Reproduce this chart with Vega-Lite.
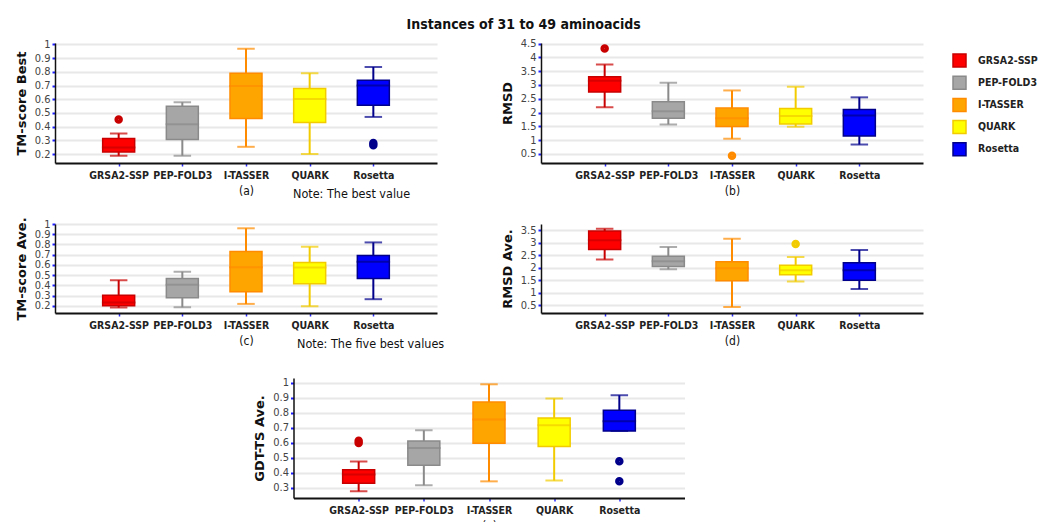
{
"$schema": "https://vega.github.io/schema/vega-lite/v6.json",
"autosize": {"type": "pad"},
"padding": {"left": 15, "top": 17, "right": 5, "bottom": 0},
"background": "white",
"title": {"text": "Instances of 31 to 49 aminoacids", "font": "DejaVu Sans Condensed", "fontSize": 14, "fontWeight": "bold", "color": "#111", "anchor": "middle", "dx": -3, "offset": 6},
"datasets": {
"boxes": [
{"panel": "a", "tool": "GRSA2-SSP", "lower": 0.188, "q1": 0.215, "median": 0.248, "q3": 0.314, "upper": 0.35},
{"panel": "a", "tool": "PEP-FOLD3", "lower": 0.188, "q1": 0.307, "median": 0.418, "q3": 0.549, "upper": 0.578},
{"panel": "a", "tool": "I-TASSER", "lower": 0.253, "q1": 0.459, "median": 0.697, "q3": 0.79, "upper": 0.968},
{"panel": "a", "tool": "QUARK", "lower": 0.2, "q1": 0.43, "median": 0.602, "q3": 0.678, "upper": 0.79},
{"panel": "a", "tool": "Rosetta", "lower": 0.471, "q1": 0.556, "median": 0.70, "q3": 0.738, "upper": 0.835},
{"panel": "b", "tool": "GRSA2-SSP", "lower": 2.19, "q1": 2.74, "median": 3.15, "q3": 3.30, "upper": 3.74},
{"panel": "b", "tool": "PEP-FOLD3", "lower": 1.57, "q1": 1.79, "median": 2.05, "q3": 2.39, "upper": 3.08},
{"panel": "b", "tool": "I-TASSER", "lower": 1.05, "q1": 1.49, "median": 1.79, "q3": 2.16, "upper": 2.80},
{"panel": "b", "tool": "QUARK", "lower": 1.48, "q1": 1.58, "median": 1.87, "q3": 2.15, "upper": 2.93},
{"panel": "b", "tool": "Rosetta", "lower": 0.84, "q1": 1.15, "median": 1.89, "q3": 2.11, "upper": 2.55},
{"panel": "c", "tool": "GRSA2-SSP", "lower": 0.183, "q1": 0.2, "median": 0.232, "q3": 0.304, "upper": 0.451},
{"panel": "c", "tool": "PEP-FOLD3", "lower": 0.186, "q1": 0.278, "median": 0.405, "q3": 0.467, "upper": 0.533},
{"panel": "c", "tool": "I-TASSER", "lower": 0.219, "q1": 0.337, "median": 0.578, "q3": 0.732, "upper": 0.958},
{"panel": "c", "tool": "QUARK", "lower": 0.196, "q1": 0.415, "median": 0.575, "q3": 0.624, "upper": 0.778},
{"panel": "c", "tool": "Rosetta", "lower": 0.265, "q1": 0.467, "median": 0.631, "q3": 0.693, "upper": 0.82},
{"panel": "d", "tool": "GRSA2-SSP", "lower": 2.32, "q1": 2.72, "median": 3.09, "q3": 3.46, "upper": 3.55},
{"panel": "d", "tool": "PEP-FOLD3", "lower": 1.93, "q1": 2.04, "median": 2.25, "q3": 2.45, "upper": 2.82},
{"panel": "d", "tool": "I-TASSER", "lower": 0.42, "q1": 1.47, "median": 1.97, "q3": 2.23, "upper": 3.15},
{"panel": "d", "tool": "QUARK", "lower": 1.44, "q1": 1.71, "median": 1.89, "q3": 2.09, "upper": 2.42},
{"panel": "d", "tool": "Rosetta", "lower": 1.14, "q1": 1.49, "median": 1.89, "q3": 2.19, "upper": 2.70},
{"panel": "e", "tool": "GRSA2-SSP", "lower": 0.278, "q1": 0.331, "median": 0.389, "q3": 0.422, "upper": 0.476},
{"panel": "e", "tool": "PEP-FOLD3", "lower": 0.318, "q1": 0.451, "median": 0.567, "q3": 0.613, "upper": 0.684},
{"panel": "e", "tool": "I-TASSER", "lower": 0.344, "q1": 0.598, "median": 0.756, "q3": 0.873, "upper": 0.991},
{"panel": "e", "tool": "QUARK", "lower": 0.349, "q1": 0.576, "median": 0.718, "q3": 0.767, "upper": 0.896},
{"panel": "e", "tool": "Rosetta", "lower": 0.68, "q1": 0.68, "median": 0.744, "q3": 0.818, "upper": 0.918}
],
"outliers": [
{"panel": "a", "tool": "GRSA2-SSP", "value": 0.452},
{"panel": "a", "tool": "Rosetta", "value": 0.265},
{"panel": "a", "tool": "Rosetta", "value": 0.28},
{"panel": "b", "tool": "GRSA2-SSP", "value": 4.32},
{"panel": "b", "tool": "I-TASSER", "value": 0.43},
{"panel": "d", "tool": "QUARK", "value": 2.94},
{"panel": "e", "tool": "GRSA2-SSP", "value": 0.6},
{"panel": "e", "tool": "GRSA2-SSP", "value": 0.615},
{"panel": "e", "tool": "Rosetta", "value": 0.478},
{"panel": "e", "tool": "Rosetta", "value": 0.344}
]
},
"vconcat": [
{
"hconcat": [
{
"width": 382, "height": 120,
"title": {"text": "Note: The best value", "orient": "bottom", "anchor": "start", "frame": "group", "dx": 238, "dy": -9, "font": "DejaVu Sans Condensed", "fontSize": 12.5, "fontWeight": "normal", "color": "#111", "offset": 0},
"encoding": {"x": {"field": "tool", "type": "nominal", "scale": {"type": "point", "padding": 1, "domain": ["GRSA2-SSP", "PEP-FOLD3", "I-TASSER", "QUARK", "Rosetta"]}, "axis": {"title": "(a)", "labelAngle": 0}}},
"layer": [
{"data": {"name": "boxes"}, "transform": [{"filter": "datum.panel === 'a'"}],
"layer": [
{"mark": {"type": "rule", "strokeWidth": 2}, "encoding": {"y": {"field": "lower", "type": "quantitative", "title": "TM-score Best", "scale": {"domain": [0.135, 1.01], "nice": false, "zero": false}, "axis": {"values": [0.2, 0.3, 0.4, 0.5, 0.6, 0.7, 0.8, 0.9, 1], "format": "~g"}}, "y2": {"field": "upper"}, "stroke": {"field": "tool", "type": "nominal", "scale": {"domain": ["GRSA2-SSP", "PEP-FOLD3", "I-TASSER", "QUARK", "Rosetta"]}, "legend": {"title": null}}}},
{"mark": {"type": "bar", "size": 32, "strokeWidth": 1.5}, "encoding": {"y": {"field": "q1", "type": "quantitative", "title": "TM-score Best", "scale": {"domain": [0.135, 1.01], "nice": false, "zero": false}, "axis": {"values": [0.2, 0.3, 0.4, 0.5, 0.6, 0.7, 0.8, 0.9, 1], "format": "~g"}}, "y2": {"field": "q3"}, "fill": {"field": "tool", "type": "nominal", "scale": {"domain": ["GRSA2-SSP", "PEP-FOLD3", "I-TASSER", "QUARK", "Rosetta"], "range": ["#ff0000", "#a6a6a6", "#ffa500", "#ffff00", "#0000ff"]}, "legend": {"title": null}}, "stroke": {"field": "tool", "type": "nominal", "scale": {"domain": ["GRSA2-SSP", "PEP-FOLD3", "I-TASSER", "QUARK", "Rosetta"]}, "legend": {"title": null}}}},
{"mark": {"type": "tick", "size": 32, "thickness": 0.5, "filled": false, "strokeWidth": 1.5}, "encoding": {"y": {"field": "median", "type": "quantitative", "title": "TM-score Best", "scale": {"domain": [0.135, 1.01], "nice": false, "zero": false}, "axis": {"values": [0.2, 0.3, 0.4, 0.5, 0.6, 0.7, 0.8, 0.9, 1], "format": "~g"}}, "stroke": {"field": "tool", "type": "nominal", "scale": {"domain": ["GRSA2-SSP", "PEP-FOLD3", "I-TASSER", "QUARK", "Rosetta"]}, "legend": {"title": null}}}},
{"mark": {"type": "tick", "size": 16, "thickness": 0.5, "filled": false, "strokeWidth": 1.5}, "encoding": {"y": {"field": "lower", "type": "quantitative", "title": "TM-score Best", "scale": {"domain": [0.135, 1.01], "nice": false, "zero": false}, "axis": {"values": [0.2, 0.3, 0.4, 0.5, 0.6, 0.7, 0.8, 0.9, 1], "format": "~g"}}, "stroke": {"field": "tool", "type": "nominal", "scale": {"domain": ["GRSA2-SSP", "PEP-FOLD3", "I-TASSER", "QUARK", "Rosetta"]}, "legend": {"title": null}}}},
{"mark": {"type": "tick", "size": 16, "thickness": 0.5, "filled": false, "strokeWidth": 1.5}, "encoding": {"y": {"field": "upper", "type": "quantitative", "title": "TM-score Best", "scale": {"domain": [0.135, 1.01], "nice": false, "zero": false}, "axis": {"values": [0.2, 0.3, 0.4, 0.5, 0.6, 0.7, 0.8, 0.9, 1], "format": "~g"}}, "stroke": {"field": "tool", "type": "nominal", "scale": {"domain": ["GRSA2-SSP", "PEP-FOLD3", "I-TASSER", "QUARK", "Rosetta"]}, "legend": {"title": null}}}}
]},
{"data": {"name": "outliers"}, "transform": [{"filter": "datum.panel === 'a'"}], "mark": {"type": "point", "filled": false, "size": 16, "strokeWidth": 4.5, "opacity": 1}, "encoding": {"y": {"field": "value", "type": "quantitative", "title": "TM-score Best", "scale": {"domain": [0.135, 1.01], "nice": false, "zero": false}, "axis": {"values": [0.2, 0.3, 0.4, 0.5, 0.6, 0.7, 0.8, 0.9, 1], "format": "~g"}}, "stroke": {"field": "tool", "type": "nominal", "scale": {"domain": ["GRSA2-SSP", "PEP-FOLD3", "I-TASSER", "QUARK", "Rosetta"]}, "legend": {"title": null}}}}
]
},
{
"width": 382, "height": 120,
"encoding": {"x": {"field": "tool", "type": "nominal", "scale": {"type": "point", "padding": 1, "domain": ["GRSA2-SSP", "PEP-FOLD3", "I-TASSER", "QUARK", "Rosetta"]}, "axis": {"title": "(b)", "labelAngle": 0}}},
"layer": [
{"data": {"name": "boxes"}, "transform": [{"filter": "datum.panel === 'b'"}],
"layer": [
{"mark": {"type": "rule", "strokeWidth": 2}, "encoding": {"y": {"field": "lower", "type": "quantitative", "title": "RMSD", "scale": {"domain": [0.17, 4.52], "nice": false, "zero": false}, "axis": {"values": [0.5, 1, 1.5, 2, 2.5, 3, 3.5, 4, 4.5], "format": "~g"}}, "y2": {"field": "upper"}, "stroke": {"field": "tool", "type": "nominal", "scale": {"domain": ["GRSA2-SSP", "PEP-FOLD3", "I-TASSER", "QUARK", "Rosetta"]}, "legend": {"title": null}}}},
{"mark": {"type": "bar", "size": 32, "strokeWidth": 1.5}, "encoding": {"y": {"field": "q1", "type": "quantitative", "title": "RMSD", "scale": {"domain": [0.17, 4.52], "nice": false, "zero": false}, "axis": {"values": [0.5, 1, 1.5, 2, 2.5, 3, 3.5, 4, 4.5], "format": "~g"}}, "y2": {"field": "q3"}, "fill": {"field": "tool", "type": "nominal", "scale": {"domain": ["GRSA2-SSP", "PEP-FOLD3", "I-TASSER", "QUARK", "Rosetta"], "range": ["#ff0000", "#a6a6a6", "#ffa500", "#ffff00", "#0000ff"]}, "legend": {"title": null}}, "stroke": {"field": "tool", "type": "nominal", "scale": {"domain": ["GRSA2-SSP", "PEP-FOLD3", "I-TASSER", "QUARK", "Rosetta"]}, "legend": {"title": null}}}},
{"mark": {"type": "tick", "size": 32, "thickness": 0.5, "filled": false, "strokeWidth": 1.5}, "encoding": {"y": {"field": "median", "type": "quantitative", "title": "RMSD", "scale": {"domain": [0.17, 4.52], "nice": false, "zero": false}, "axis": {"values": [0.5, 1, 1.5, 2, 2.5, 3, 3.5, 4, 4.5], "format": "~g"}}, "stroke": {"field": "tool", "type": "nominal", "scale": {"domain": ["GRSA2-SSP", "PEP-FOLD3", "I-TASSER", "QUARK", "Rosetta"]}, "legend": {"title": null}}}},
{"mark": {"type": "tick", "size": 16, "thickness": 0.5, "filled": false, "strokeWidth": 1.5}, "encoding": {"y": {"field": "lower", "type": "quantitative", "title": "RMSD", "scale": {"domain": [0.17, 4.52], "nice": false, "zero": false}, "axis": {"values": [0.5, 1, 1.5, 2, 2.5, 3, 3.5, 4, 4.5], "format": "~g"}}, "stroke": {"field": "tool", "type": "nominal", "scale": {"domain": ["GRSA2-SSP", "PEP-FOLD3", "I-TASSER", "QUARK", "Rosetta"]}, "legend": {"title": null}}}},
{"mark": {"type": "tick", "size": 16, "thickness": 0.5, "filled": false, "strokeWidth": 1.5}, "encoding": {"y": {"field": "upper", "type": "quantitative", "title": "RMSD", "scale": {"domain": [0.17, 4.52], "nice": false, "zero": false}, "axis": {"values": [0.5, 1, 1.5, 2, 2.5, 3, 3.5, 4, 4.5], "format": "~g"}}, "stroke": {"field": "tool", "type": "nominal", "scale": {"domain": ["GRSA2-SSP", "PEP-FOLD3", "I-TASSER", "QUARK", "Rosetta"]}, "legend": {"title": null}}}}
]},
{"data": {"name": "outliers"}, "transform": [{"filter": "datum.panel === 'b'"}], "mark": {"type": "point", "filled": false, "size": 16, "strokeWidth": 4.5, "opacity": 1}, "encoding": {"y": {"field": "value", "type": "quantitative", "title": "RMSD", "scale": {"domain": [0.17, 4.52], "nice": false, "zero": false}, "axis": {"values": [0.5, 1, 1.5, 2, 2.5, 3, 3.5, 4, 4.5], "format": "~g"}}, "stroke": {"field": "tool", "type": "nominal", "scale": {"domain": ["GRSA2-SSP", "PEP-FOLD3", "I-TASSER", "QUARK", "Rosetta"]}, "legend": {"title": null}}}}
]
}
],
"spacing": 104, "bounds": "flush",
"resolve": {"scale": {"x": "independent", "y": "independent", "fill": "shared", "stroke": "shared"}}
},
{
"hconcat": [
{
"width": 382, "height": 89,
"title": {"text": ["Note: The five best values", " "], "lineHeight": 10, "orient": "bottom", "anchor": "start", "frame": "group", "dx": 242, "dy": -9, "font": "DejaVu Sans Condensed", "fontSize": 12.5, "fontWeight": "normal", "color": "#111", "offset": 0},
"encoding": {"x": {"field": "tool", "type": "nominal", "scale": {"type": "point", "padding": 1, "domain": ["GRSA2-SSP", "PEP-FOLD3", "I-TASSER", "QUARK", "Rosetta"]}, "axis": {"title": "(c)", "labelAngle": 0}}},
"layer": [
{"data": {"name": "boxes"}, "transform": [{"filter": "datum.panel === 'c'"}],
"layer": [
{"mark": {"type": "rule", "strokeWidth": 2}, "encoding": {"y": {"field": "lower", "type": "quantitative", "title": "TM-score Ave.", "scale": {"domain": [0.13, 1.0], "nice": false, "zero": false}, "axis": {"values": [0.2, 0.3, 0.4, 0.5, 0.6, 0.7, 0.8, 0.9, 1], "format": "~g"}}, "y2": {"field": "upper"}, "stroke": {"field": "tool", "type": "nominal", "scale": {"domain": ["GRSA2-SSP", "PEP-FOLD3", "I-TASSER", "QUARK", "Rosetta"]}, "legend": {"title": null}}}},
{"mark": {"type": "bar", "size": 32, "strokeWidth": 1.5}, "encoding": {"y": {"field": "q1", "type": "quantitative", "title": "TM-score Ave.", "scale": {"domain": [0.13, 1.0], "nice": false, "zero": false}, "axis": {"values": [0.2, 0.3, 0.4, 0.5, 0.6, 0.7, 0.8, 0.9, 1], "format": "~g"}}, "y2": {"field": "q3"}, "fill": {"field": "tool", "type": "nominal", "scale": {"domain": ["GRSA2-SSP", "PEP-FOLD3", "I-TASSER", "QUARK", "Rosetta"], "range": ["#ff0000", "#a6a6a6", "#ffa500", "#ffff00", "#0000ff"]}, "legend": {"title": null}}, "stroke": {"field": "tool", "type": "nominal", "scale": {"domain": ["GRSA2-SSP", "PEP-FOLD3", "I-TASSER", "QUARK", "Rosetta"]}, "legend": {"title": null}}}},
{"mark": {"type": "tick", "size": 32, "thickness": 0.5, "filled": false, "strokeWidth": 1.5}, "encoding": {"y": {"field": "median", "type": "quantitative", "title": "TM-score Ave.", "scale": {"domain": [0.13, 1.0], "nice": false, "zero": false}, "axis": {"values": [0.2, 0.3, 0.4, 0.5, 0.6, 0.7, 0.8, 0.9, 1], "format": "~g"}}, "stroke": {"field": "tool", "type": "nominal", "scale": {"domain": ["GRSA2-SSP", "PEP-FOLD3", "I-TASSER", "QUARK", "Rosetta"]}, "legend": {"title": null}}}},
{"mark": {"type": "tick", "size": 16, "thickness": 0.5, "filled": false, "strokeWidth": 1.5}, "encoding": {"y": {"field": "lower", "type": "quantitative", "title": "TM-score Ave.", "scale": {"domain": [0.13, 1.0], "nice": false, "zero": false}, "axis": {"values": [0.2, 0.3, 0.4, 0.5, 0.6, 0.7, 0.8, 0.9, 1], "format": "~g"}}, "stroke": {"field": "tool", "type": "nominal", "scale": {"domain": ["GRSA2-SSP", "PEP-FOLD3", "I-TASSER", "QUARK", "Rosetta"]}, "legend": {"title": null}}}},
{"mark": {"type": "tick", "size": 16, "thickness": 0.5, "filled": false, "strokeWidth": 1.5}, "encoding": {"y": {"field": "upper", "type": "quantitative", "title": "TM-score Ave.", "scale": {"domain": [0.13, 1.0], "nice": false, "zero": false}, "axis": {"values": [0.2, 0.3, 0.4, 0.5, 0.6, 0.7, 0.8, 0.9, 1], "format": "~g"}}, "stroke": {"field": "tool", "type": "nominal", "scale": {"domain": ["GRSA2-SSP", "PEP-FOLD3", "I-TASSER", "QUARK", "Rosetta"]}, "legend": {"title": null}}}}
]},
{"data": {"name": "outliers"}, "transform": [{"filter": "datum.panel === 'c'"}], "mark": {"type": "point", "filled": false, "size": 16, "strokeWidth": 4.5, "opacity": 1}, "encoding": {"y": {"field": "value", "type": "quantitative", "title": "TM-score Ave.", "scale": {"domain": [0.13, 1.0], "nice": false, "zero": false}, "axis": {"values": [0.2, 0.3, 0.4, 0.5, 0.6, 0.7, 0.8, 0.9, 1], "format": "~g"}}, "stroke": {"field": "tool", "type": "nominal", "scale": {"domain": ["GRSA2-SSP", "PEP-FOLD3", "I-TASSER", "QUARK", "Rosetta"]}, "legend": {"title": null}}}}
]
},
{
"width": 382, "height": 89,
"encoding": {"x": {"field": "tool", "type": "nominal", "scale": {"type": "point", "padding": 1, "domain": ["GRSA2-SSP", "PEP-FOLD3", "I-TASSER", "QUARK", "Rosetta"]}, "axis": {"title": "(d)", "labelAngle": 0}}},
"layer": [
{"data": {"name": "boxes"}, "transform": [{"filter": "datum.panel === 'd'"}],
"layer": [
{"mark": {"type": "rule", "strokeWidth": 2}, "encoding": {"y": {"field": "lower", "type": "quantitative", "title": "RMSD Ave.", "scale": {"domain": [0.18, 3.74], "nice": false, "zero": false}, "axis": {"values": [0.5, 1, 1.5, 2, 2.5, 3, 3.5], "format": "~g"}}, "y2": {"field": "upper"}, "stroke": {"field": "tool", "type": "nominal", "scale": {"domain": ["GRSA2-SSP", "PEP-FOLD3", "I-TASSER", "QUARK", "Rosetta"]}, "legend": {"title": null}}}},
{"mark": {"type": "bar", "size": 32, "strokeWidth": 1.5}, "encoding": {"y": {"field": "q1", "type": "quantitative", "title": "RMSD Ave.", "scale": {"domain": [0.18, 3.74], "nice": false, "zero": false}, "axis": {"values": [0.5, 1, 1.5, 2, 2.5, 3, 3.5], "format": "~g"}}, "y2": {"field": "q3"}, "fill": {"field": "tool", "type": "nominal", "scale": {"domain": ["GRSA2-SSP", "PEP-FOLD3", "I-TASSER", "QUARK", "Rosetta"], "range": ["#ff0000", "#a6a6a6", "#ffa500", "#ffff00", "#0000ff"]}, "legend": {"title": null}}, "stroke": {"field": "tool", "type": "nominal", "scale": {"domain": ["GRSA2-SSP", "PEP-FOLD3", "I-TASSER", "QUARK", "Rosetta"]}, "legend": {"title": null}}}},
{"mark": {"type": "tick", "size": 32, "thickness": 0.5, "filled": false, "strokeWidth": 1.5}, "encoding": {"y": {"field": "median", "type": "quantitative", "title": "RMSD Ave.", "scale": {"domain": [0.18, 3.74], "nice": false, "zero": false}, "axis": {"values": [0.5, 1, 1.5, 2, 2.5, 3, 3.5], "format": "~g"}}, "stroke": {"field": "tool", "type": "nominal", "scale": {"domain": ["GRSA2-SSP", "PEP-FOLD3", "I-TASSER", "QUARK", "Rosetta"]}, "legend": {"title": null}}}},
{"mark": {"type": "tick", "size": 16, "thickness": 0.5, "filled": false, "strokeWidth": 1.5}, "encoding": {"y": {"field": "lower", "type": "quantitative", "title": "RMSD Ave.", "scale": {"domain": [0.18, 3.74], "nice": false, "zero": false}, "axis": {"values": [0.5, 1, 1.5, 2, 2.5, 3, 3.5], "format": "~g"}}, "stroke": {"field": "tool", "type": "nominal", "scale": {"domain": ["GRSA2-SSP", "PEP-FOLD3", "I-TASSER", "QUARK", "Rosetta"]}, "legend": {"title": null}}}},
{"mark": {"type": "tick", "size": 16, "thickness": 0.5, "filled": false, "strokeWidth": 1.5}, "encoding": {"y": {"field": "upper", "type": "quantitative", "title": "RMSD Ave.", "scale": {"domain": [0.18, 3.74], "nice": false, "zero": false}, "axis": {"values": [0.5, 1, 1.5, 2, 2.5, 3, 3.5], "format": "~g"}}, "stroke": {"field": "tool", "type": "nominal", "scale": {"domain": ["GRSA2-SSP", "PEP-FOLD3", "I-TASSER", "QUARK", "Rosetta"]}, "legend": {"title": null}}}}
]},
{"data": {"name": "outliers"}, "transform": [{"filter": "datum.panel === 'd'"}], "mark": {"type": "point", "filled": false, "size": 16, "strokeWidth": 4.5, "opacity": 1}, "encoding": {"y": {"field": "value", "type": "quantitative", "title": "RMSD Ave.", "scale": {"domain": [0.18, 3.74], "nice": false, "zero": false}, "axis": {"values": [0.5, 1, 1.5, 2, 2.5, 3, 3.5], "format": "~g"}}, "stroke": {"field": "tool", "type": "nominal", "scale": {"domain": ["GRSA2-SSP", "PEP-FOLD3", "I-TASSER", "QUARK", "Rosetta"]}, "legend": {"title": null}}}}
]
}
],
"spacing": 104, "bounds": "flush",
"resolve": {"scale": {"x": "independent", "y": "independent", "fill": "shared", "stroke": "shared"}}
},
{
"width": 391, "height": 120,
"encoding": {"x": {"field": "tool", "type": "nominal", "scale": {"type": "point", "padding": 1, "domain": ["GRSA2-SSP", "PEP-FOLD3", "I-TASSER", "QUARK", "Rosetta"]}, "axis": {"title": "(e)", "labelAngle": 0}}},
"layer": [
{"data": {"name": "boxes"}, "transform": [{"filter": "datum.panel === 'e'"}],
"layer": [
{"mark": {"type": "rule", "strokeWidth": 2}, "encoding": {"y": {"field": "lower", "type": "quantitative", "title": "GDT-TS Ave.", "scale": {"domain": [0.233, 1.033], "nice": false, "zero": false}, "axis": {"values": [0.3, 0.4, 0.5, 0.6, 0.7, 0.8, 0.9, 1], "format": "~g"}}, "y2": {"field": "upper"}, "stroke": {"field": "tool", "type": "nominal", "scale": {"domain": ["GRSA2-SSP", "PEP-FOLD3", "I-TASSER", "QUARK", "Rosetta"]}, "legend": {"title": null}}}},
{"mark": {"type": "bar", "size": 32, "strokeWidth": 1.5}, "encoding": {"y": {"field": "q1", "type": "quantitative", "title": "GDT-TS Ave.", "scale": {"domain": [0.233, 1.033], "nice": false, "zero": false}, "axis": {"values": [0.3, 0.4, 0.5, 0.6, 0.7, 0.8, 0.9, 1], "format": "~g"}}, "y2": {"field": "q3"}, "fill": {"field": "tool", "type": "nominal", "scale": {"domain": ["GRSA2-SSP", "PEP-FOLD3", "I-TASSER", "QUARK", "Rosetta"], "range": ["#ff0000", "#a6a6a6", "#ffa500", "#ffff00", "#0000ff"]}, "legend": {"title": null}}, "stroke": {"field": "tool", "type": "nominal", "scale": {"domain": ["GRSA2-SSP", "PEP-FOLD3", "I-TASSER", "QUARK", "Rosetta"]}, "legend": {"title": null}}}},
{"mark": {"type": "tick", "size": 32, "thickness": 0.5, "filled": false, "strokeWidth": 1.5}, "encoding": {"y": {"field": "median", "type": "quantitative", "title": "GDT-TS Ave.", "scale": {"domain": [0.233, 1.033], "nice": false, "zero": false}, "axis": {"values": [0.3, 0.4, 0.5, 0.6, 0.7, 0.8, 0.9, 1], "format": "~g"}}, "stroke": {"field": "tool", "type": "nominal", "scale": {"domain": ["GRSA2-SSP", "PEP-FOLD3", "I-TASSER", "QUARK", "Rosetta"]}, "legend": {"title": null}}}},
{"mark": {"type": "tick", "size": 16, "thickness": 0.5, "filled": false, "strokeWidth": 1.5}, "encoding": {"y": {"field": "lower", "type": "quantitative", "title": "GDT-TS Ave.", "scale": {"domain": [0.233, 1.033], "nice": false, "zero": false}, "axis": {"values": [0.3, 0.4, 0.5, 0.6, 0.7, 0.8, 0.9, 1], "format": "~g"}}, "stroke": {"field": "tool", "type": "nominal", "scale": {"domain": ["GRSA2-SSP", "PEP-FOLD3", "I-TASSER", "QUARK", "Rosetta"]}, "legend": {"title": null}}}},
{"mark": {"type": "tick", "size": 16, "thickness": 0.5, "filled": false, "strokeWidth": 1.5}, "encoding": {"y": {"field": "upper", "type": "quantitative", "title": "GDT-TS Ave.", "scale": {"domain": [0.233, 1.033], "nice": false, "zero": false}, "axis": {"values": [0.3, 0.4, 0.5, 0.6, 0.7, 0.8, 0.9, 1], "format": "~g"}}, "stroke": {"field": "tool", "type": "nominal", "scale": {"domain": ["GRSA2-SSP", "PEP-FOLD3", "I-TASSER", "QUARK", "Rosetta"]}, "legend": {"title": null}}}}
]},
{"data": {"name": "outliers"}, "transform": [{"filter": "datum.panel === 'e'"}], "mark": {"type": "point", "filled": false, "size": 16, "strokeWidth": 4.5, "opacity": 1}, "encoding": {"y": {"field": "value", "type": "quantitative", "title": "GDT-TS Ave.", "scale": {"domain": [0.233, 1.033], "nice": false, "zero": false}, "axis": {"values": [0.3, 0.4, 0.5, 0.6, 0.7, 0.8, 0.9, 1], "format": "~g"}}, "stroke": {"field": "tool", "type": "nominal", "scale": {"domain": ["GRSA2-SSP", "PEP-FOLD3", "I-TASSER", "QUARK", "Rosetta"]}, "legend": {"title": null}}}}
]
}
],
"spacing": 16, "center": true,
"resolve": {"scale": {"x": "independent", "y": "independent", "fill": "shared", "stroke": "shared"}},
"config": {
"view": {"stroke": null},
"range": {"category": ["#c80000", "#8a8a8a", "#ff8c00", "#f2cc00", "#00008b"]},
"axis": {"labelFont": "DejaVu Sans Condensed", "titleFont": "DejaVu Sans", "labelOverlap": false, "labelFlush": false},
"axisX": {"labelFontWeight": "bold", "labelFontSize": 10.5, "labelColor": "#222", "labelPadding": 4, "domainColor": "#111", "domainWidth": 2, "tickColor": "#2b2bff", "tickSize": 3, "tickWidth": 1.5, "grid": false, "titleFont": "DejaVu Sans Condensed", "titleFontWeight": "normal", "titleFontSize": 12, "titleColor": "#111", "titlePadding": 5},
"axisY": {"labelFontSize": 11, "labelColor": "#444", "domainColor": "#111", "domainWidth": 1.5, "tickColor": "#1f1fff", "tickSize": 3, "tickWidth": 2, "grid": true, "gridColor": "#e8e8e8", "gridWidth": 2, "titleFontSize": 13, "titleFontWeight": "bold", "titleColor": "#111", "titlePadding": 6},
"legend": {"orient": "none", "legendX": 897, "legendY": 10, "symbolType": "square", "symbolSize": 169, "symbolStrokeWidth": 1.5, "labelFont": "DejaVu Sans Condensed", "labelFontWeight": "bold", "labelFontSize": 10.5, "labelColor": "#222", "rowPadding": 3.2, "labelOffset": 11, "padding": 0}
}
}
